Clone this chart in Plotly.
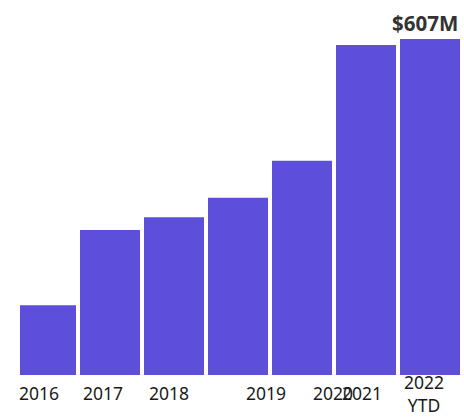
import plotly.graph_objects as go

categories = ["2016", "2017", "2018", "2019", "2020", "2021", "2022<br>YTD"]
values = [126, 262, 285, 320, 387, 596, 607]
# positions of the axis labels (in bar-index units) as seen in the reference
label_pos = [-0.106, 0.891, 1.919, 3.442, 4.477, 4.945, 5.909]
top_label = "$607M"

BAR_COLOR = "#5E4FDA"
x_idx = list(range(len(categories)))

fig = go.Figure()
fig.add_trace(go.Bar(
    x=x_idx, y=values, width=0.9375,
    marker=dict(color=BAR_COLOR, line=dict(width=0)),
    hoverinfo="skip",
))

for pos, lab in zip(label_pos, categories):
    fig.add_annotation(
        x=pos, y=0, xref="x", yref="y", text=lab, showarrow=False,
        xanchor="center", yanchor="middle", yshift=-18,
        font=dict(family="Noto Sans", size=17.5, color="#1a1a1a"),
        align="center",
    )

fig.add_annotation(
    x=x_idx[-1] + 0.46875, y=values[-1], xref="x", yref="y",
    text="<b>" + top_label + "</b>", showarrow=False,
    xanchor="right", yanchor="bottom", yshift=0,
    font=dict(family="Noto Sans", size=20.5, color="#333333"),
)

fig.update_layout(
    width=464, height=418,
    margin=dict(l=20, r=4, t=39, b=43),
    paper_bgcolor="white", plot_bgcolor="white",
    showlegend=False,
    xaxis=dict(range=[-0.40625, 6.46875], showticklabels=False, showgrid=False,
               zeroline=False, showline=False, ticks=""),
    yaxis=dict(range=[0, 607], showticklabels=False, showgrid=False,
               zeroline=False, showline=False, ticks=""),
)

fig.write_html("out.html")
